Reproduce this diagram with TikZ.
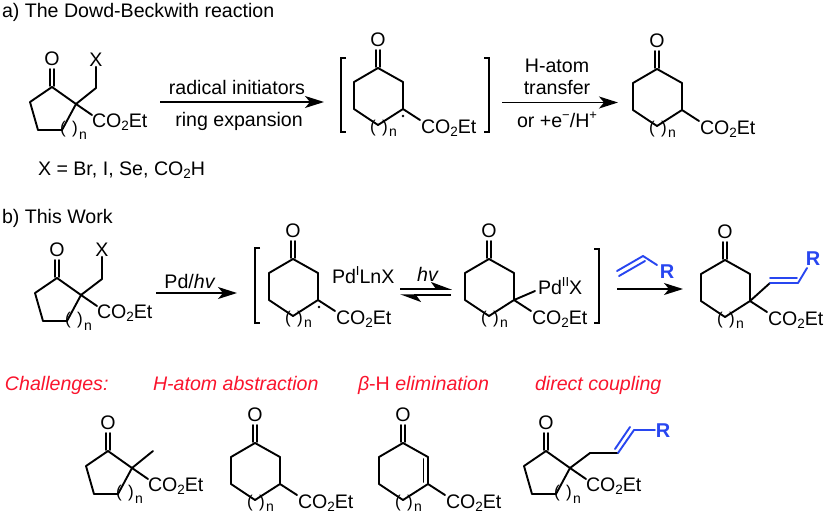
\documentclass[tikz,border=0pt]{standalone}
\usepackage{fontspec}
\setmainfont{Liberation Sans}
\usetikzlibrary{arrows.meta}
\definecolor{chemblue}{RGB}{40,70,240}
\definecolor{chemred}{RGB}{250,20,45}
\newcommand{\subtwo}{\raisebox{-3.5pt}{\fontsize{13.5}{13.5}\selectfont 2}}
\newcommand{\supr}[1]{\raisebox{7.5pt}{\fontsize{13}{13}\selectfont #1}}
\newcommand{\ester}{CO\subtwo Et}
\tikzset{
  lab/.style={inner sep=0pt,outer sep=0pt,font=\fontsize{19.6}{22}\selectfont},
  atom/.style={lab,anchor=center},
  txt/.style={lab,anchor=base west},
  mid/.style={lab,anchor=base},
  smalln/.style={inner sep=0pt,outer sep=0pt,anchor=base west,font=\fontsize{14}{14}\selectfont},
  paren/.style={inner sep=0pt,outer sep=0pt,anchor=center,font=\fontsize{17}{17}\selectfont},
  bond/.style={line width=1.9pt,line join=round,line cap=round,black},
  bluebond/.style={line width=1.9pt,line join=round,line cap=round,chemblue},
  brk/.style={line width=1.9pt,line join=miter,black},
  rxn/.style={line width=1.5pt,-{Stealth[length=19pt,width=12pt,inset=5pt]}},
  rxnshort/.style={line width=1.5pt,-{Stealth[length=19pt,width=12pt,inset=5pt]}},
  halfarrow/.style={line width=1.5pt,-{Stealth[length=19pt,width=14pt,inset=5pt,harpoon]}},
  red/.style={lab,anchor=base west,text=chemred,font=\fontsize{19.6}{22}\selectfont\itshape},
  blueR/.style={atom,text=chemblue,font=\fontsize{20}{22}\selectfont\bfseries}
}
% six-membered ketone; origin = carbonyl carbon
\newcommand{\ringsix}[3]{%
  \begin{scope}[shift={(#2,#3)}]
    \node[atom] (#1O) at (0,-28) {O};
    \coordinate (#1a) at (0,0);
    \coordinate (#1b) at (25,14);
    \coordinate (#1c) at (25,41);
    \coordinate (#1d) at (0,57);
    \coordinate (#1e) at (-24,41);
    \coordinate (#1f) at (-24,14);
    \draw[bond] (#1a)--(#1b)--(#1c)--(#1d)--(#1e)--(#1f)--cycle;
    \draw[bond] (-2,-1)--(-2,-18) (2,-1)--(2,-18);
    \node[paren] (#1pl) at (-5,60) {(};
    \node[paren] (#1pr) at (7,60) {)};
    \node[smalln] (#1n) at (11,68) {n};
  \end{scope}}
% six-ring ester
\newcommand{\sixester}[3]{%
  \begin{scope}[shift={(#2,#3)}]
    \coordinate (#1g) at (42,52);
    \draw[bond] (#1c)--(#1g);
    \node[txt] (#1E) at (43,65) {\ester};
  \end{scope}}
% five-membered ketone; origin = quaternary carbon
\newcommand{\ringfive}[3]{%
  \begin{scope}[shift={(#2,#3)}]
    \node[atom] (#1O) at (-24,-45) {O};
    \coordinate (#1q) at (0,0);
    \coordinate (#1a) at (-24,-17);
    \coordinate (#1b) at (-46,-2);
    \coordinate (#1c) at (-38,26);
    \coordinate (#1d) at (-14,26);
    \draw[bond] (#1q)--(#1a)--(#1b)--(#1c)--(#1d)--cycle;
    \draw[bond] (-26,-18)--(-26,-35) (-22,-18)--(-22,-35);
    \coordinate (#1g) at (16,11);
    \draw[bond] (#1q)--(#1g);
    \node[txt] (#1E) at (16,23) {\ester};
    \node[paren] (#1pl) at (-13,25) {(};
    \node[paren] (#1pr) at (-1,25) {)};
    \node[smalln] (#1n) at (3,35) {n};
  \end{scope}}
\begin{document}
\begin{tikzpicture}[x=1pt,y=-1pt]
\useasboundingbox (0,0) rectangle (827,515);
% ---------- a ----------
\node[txt] (ta) at (2,17) {a) The Dowd-Beckwith reaction};
\ringfive{A}{76}{104}
\node[atom] (AX) at (96,60) {X};
\coordinate (Ah) at (96,88);
\draw[bond] (Aq)--(Ah)--(AX);
\node[txt] (xdef) at (38,175) {X = Br, I, Se, CO\subtwo H};
\coordinate (a1s) at (160,102); \coordinate (a1e) at (324,102);
\draw[rxn] (a1s)--(a1e);
\node[mid] (a1t) at (237,94) {radical initiators};
\node[mid] (a1b) at (239,126) {ring expansion};
\draw[brk] (346,58)--(341,58)--(341,132)--(346,132);
\ringsix{B}{378}{68}
\sixester{B}{378}{68}
\fill (403,116) circle (1.4);
\draw[brk] (484,58)--(489,58)--(489,132)--(484,132);
\coordinate (a2s) at (502,102.5); \coordinate (a2e) at (618,102.5);
\draw[rxn] (a2s)--(a2e);
\node[mid] (a2t) at (557,72) {H-atom};
\node[mid] (a2m) at (557,94) {transfer};
\node[mid] (a2b) at (557,127) {or +e\supr{−}/H\supr{+}};
\ringsix{C}{657}{69}
\sixester{C}{657}{69}
% ---------- b ----------
\node[txt] (tb) at (2,223) {b) This Work};
\ringfive{D}{81}{295}
\node[atom] (DX) at (102,250) {X};
\coordinate (Dh) at (102,279);
\draw[bond] (Dq)--(Dh)--(DX);
\coordinate (b1s) at (156,293); \coordinate (b1e) at (237,293);
\draw[rxnshort] (b1s)--(b1e);
\node[mid] (b1t) at (190,288) {Pd/\textit{hv}};
\draw[brk] (260,248)--(255,248)--(255,323)--(260,323);
\ringsix{F}{293}{259}
\sixester{F}{293}{259}
\fill (319,307) circle (1.4);
\node[txt] (pdone) at (332,283) {Pd\supr{I}LnX};
\coordinate (e1s) at (400,289); \coordinate (e1e) at (452,289);
\coordinate (e2s) at (451,295); \coordinate (e2e) at (400,295);
\draw[halfarrow] (e1s)--(e1e);
\draw[halfarrow] (e2s)--(e2e);
\node[mid] (ehv) at (428,281) {\textit{hv}};
\ringsix{G}{489}{259}
\sixester{G}{489}{259}
\node[txt] (pdtwo) at (538,294) {Pd\supr{II}X};
\coordinate (Gp) at (535,291);
\draw[bond] (Gc)--(Gp);
\draw[brk] (594,249)--(599,249)--(599,323)--(594,323);
% blue alkene
\coordinate (v1) at (617,271); \coordinate (v2) at (643,256); \coordinate (v3) at (657,265);
\node[blueR] (vR) at (667,272) {R};
\draw[bluebond] (v1)--(v2)--(v3);
\draw[bluebond] (619,276)--(645,261);
\coordinate (b2s) at (617,289); \coordinate (b2e) at (683,289);
\draw[rxnshort] (b2s)--(b2e);
\ringsix{H}{725}{260}
\sixester{H}{725}{260}
\coordinate (w1) at (770,283); \coordinate (w2) at (798,283); \coordinate (w3) at (807,268);
\node[blueR] (wR) at (813,259) {R};
\draw[bond] (Hc)--(w1);
\draw[bluebond] (w1)--(w2)--(w3);
\draw[bluebond] (770,278)--(797,278);
% ---------- challenges ----------
\node[red] (c1) at (5,390) {Challenges:};
\node[red] (c2) at (153,390) {H-atom abstraction};
\node[red] (c3) at (358,390) {β\textup{-H} elimination};
\node[red] (c4) at (535,390) {direct coupling};
\ringfive{J}{132}{468}
\coordinate (Jm) at (153,451);
\draw[bond] (Jq)--(Jm);
\ringsix{K}{255}{443}
\sixester{K}{255}{443}
\ringsix{L}{403}{443}
\sixester{L}{403}{443}
\draw[bond] (423.5,459)--(423.5,482);
\ringfive{M}{570}{468}
\coordinate (M1) at (590,453); \coordinate (M2) at (618,453);
\coordinate (M3) at (634,430); \coordinate (M4) at (655,430);
\node[blueR] (MR) at (663,431) {R};
\draw[bond] (Mq)--(M1)--(M2);
\draw[bluebond] (M2)--(M3)--(M4);
\draw[bluebond] (615,449)--(630,427);
\end{tikzpicture}
\end{document}
